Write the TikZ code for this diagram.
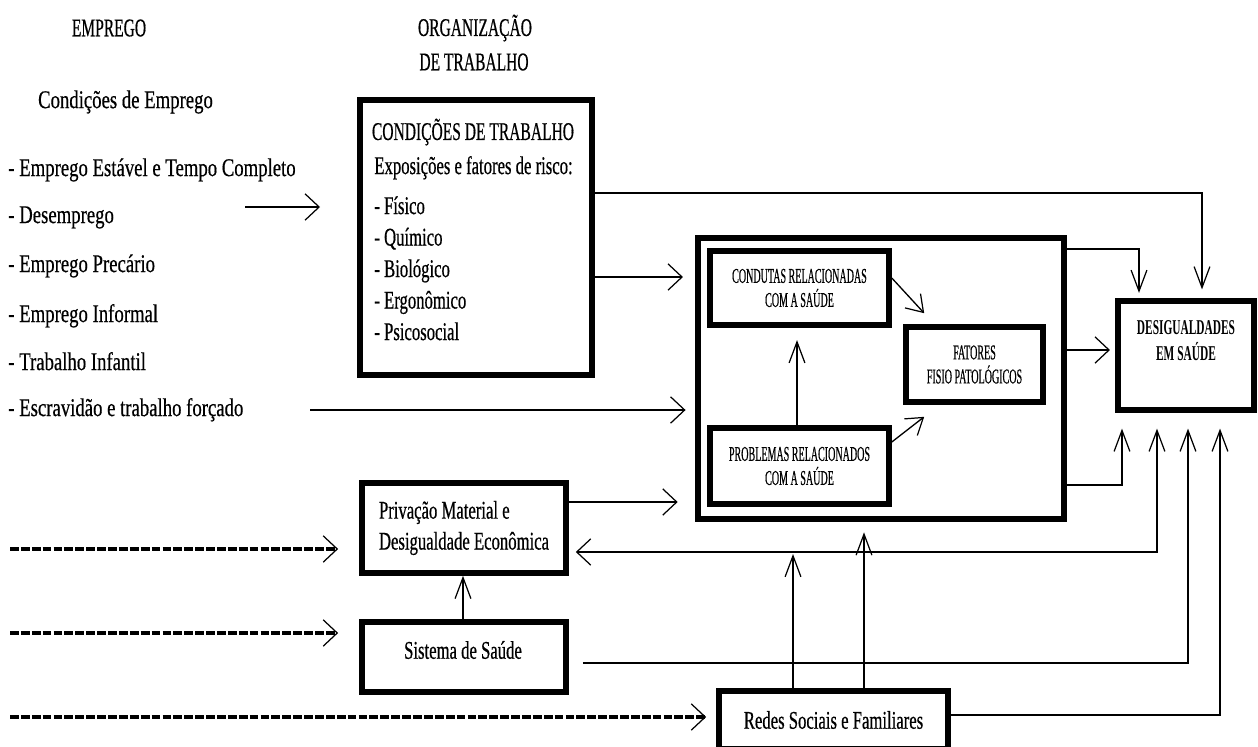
\documentclass[tikz,border=0pt]{standalone}
\usepackage{fontspec}
\setmainfont{Liberation Serif}
\newfontfamily\fA[FakeStretch=0.735,FakeBold=0.5]{Liberation Serif}
\newfontfamily\fB[FakeStretch=0.655,FakeBold=0.5]{Liberation Serif}
\newfontfamily\fH[FakeStretch=0.61,FakeBold=0.5]{Liberation Serif}
\newfontfamily\fC[FakeStretch=0.477,FakeBold=0.4]{Liberation Serif}
\newfontfamily\fD[FakeStretch=0.54]{Liberation Serif}
\usetikzlibrary{arrows.meta,calc}
\tikzset{
  HB/.tip={Straight Barb[length=8pt,width=15pt,line width=0.7pt]},
  VB/.tip={Straight Barb[length=12pt,width=9pt,line width=0.7pt]},
  DB/.tip={Straight Barb[length=9pt,width=12pt,line width=0.7pt]},
  box/.style={draw, line width=3.2pt, inner sep=0pt},
  conn/.style={line width=0.75pt},
  dashline/.style={line width=1.8pt, dash pattern=on 5pt off 1.2pt},
  txt/.style={inner sep=0pt},
  ltxt/.style={txt, font=\fA\fontsize{14.5}{17}\selectfont, anchor=mid west},
  btxt/.style={txt, font=\fB\fontsize{14.5}{17}\selectfont},
  htxt/.style={txt, font=\fH\fontsize{14.5}{17}\selectfont},
  ctxt/.style={font=\fC\fontsize{12}{13.7}\selectfont, align=center},
}
\begin{document}
\begin{tikzpicture}[x=0.02cm,y=-0.02cm]
\fill[white] (0,0) rectangle (1258,747);
\useasboundingbox (0,0) rectangle (1258,747);

% headings
\node[htxt] (hemp) at (109,28) {EMPREGO};
\node[htxt] (horg1) at (475,28) {ORGANIZAÇÃO};
\node[htxt] (horg2) at (474,62) {DE TRABALHO};
\node[txt, font=\fA\fontsize{14.5}{17}\selectfont] (hcond) at (125.5,102) {Condições de Emprego};

% left list
\node[ltxt] (l1) at (8,172) {- Emprego Estável e Tempo Completo};
\node[ltxt] (l2) at (8,219) {- Desemprego};
\node[ltxt] (l3) at (8,268) {- Emprego Precário};
\node[ltxt] (l4) at (8,318) {- Emprego Informal};
\node[ltxt] (l5) at (8,366) {- Trabalho Infantil};
\node[ltxt] (l6) at (8,412) {- Escravidão e trabalho forçado};

% boxes
\node[box, minimum width=4.65cm, minimum height=5.5cm] (cond) at (476,237.5) {};
\node[htxt] (condtitle) at (473,132) {CONDIÇÕES DE TRABALHO};
\node[btxt, anchor=mid west] (expo) at (374,170) {Exposições e fatores de risco:};
\node[btxt, anchor=mid west] (r1) at (374,210) {- Físico};
\node[btxt, anchor=mid west] (r2) at (374,241.5) {- Químico};
\node[btxt, anchor=mid west] (r3) at (374,273) {- Biológico};
\node[btxt, anchor=mid west] (r4) at (374,304.5) {- Ergonômico};
\node[btxt, anchor=mid west] (r5) at (374,336) {- Psicosocial};

\node[box, minimum width=7.32cm, minimum height=5.62cm] (big) at (881,378.5) {};
\node[box, ctxt, minimum width=3.58cm, minimum height=1.48cm] (condutas) at (799.5,288) {CONDUTAS RELACIONADAS\\COM A SAÚDE};
\node[box, ctxt, minimum width=3.58cm, minimum height=1.52cm] (problemas) at (799.5,466) {PROBLEMAS RELACIONADOS\\COM A SAÚDE};
\node[box, ctxt, minimum width=2.74cm, minimum height=1.5cm] (fatores) at (974.5,364.5) {FATORES\\FISIO PATOLÓGICOS};
\node[box, minimum width=2.72cm, minimum height=2.18cm] (desig) at (1186,355.5) {};
\node[txt, align=center, font=\fD\bfseries\fontsize{12}{14.8}\selectfont] (desigtxt) at (1186,341) {DESIGUALDADES\\EM SAÚDE};

\node[box, minimum width=4.08cm, minimum height=1.8cm, align=left, font=\fB\fontsize{14.5}{17.6}\selectfont] (priv) at (464,528) {Privação Material e\\Desigualdade Econômica};
\node[box, minimum width=4.08cm, minimum height=1.4cm] (sist) at (464,657) {};
\node[btxt] (sisttxt) at (463,650) {Sistema de Saúde};
\node[box, minimum width=4.58cm, minimum height=1.16cm, font=\fB\fontsize{14.5}{17}\selectfont] (redes) at (833.5,720) {Redes Sociais e Familiares};

% free ends
\coordinate (a1s) at (245,207);
\coordinate (a1e) at (320,207);
\coordinate (a6s) at (310,410);
\coordinate (d1s) at (10,549);
\coordinate (d2s) at (10,633);
\coordinate (d3s) at (10,717);
\coordinate (backtip) at (793,554);

% connectors
\draw[conn,-HB] (a1s) -- (a1e);
\draw[conn,-HB,shorten >=7pt] (cond.east |- 0,277) -- (big.west |- 0,277);
\draw[conn,-VB,shorten >=5pt] (cond.east |- 0,193) -| ($(desig.north)+(16,0)$);
\draw[conn,-HB,shorten >=5.5pt] (a6s) -- (big.west |- a6s);
\draw[conn,-VB,shorten >=3pt] (big.east |- 0,249) -| ($(desig.north)+(-47,0)$);
\draw[conn,-HB,shorten >=3pt] (big.east |- 0,350) -- (desig.west |- 0,350);
\draw[conn,-VB,shorten >=9pt] (big.east |- 0,485) -| ($(desig.south)+(-64,0)$);
\draw[conn,-HB,shorten >=10pt] (priv.east |- 0,502) -- (big.west |- 0,502);
\draw[conn,HB-VB,shorten <=4pt,shorten >=9pt] (priv.east |- 0,552) -| ($(desig.south)+(-29,0)$);
\draw[conn,-VB] (sist.north -| 463,0) -- (priv.south -| 463,0);
\draw[conn,-VB,shorten <=8pt,shorten >=9pt] (sist.east |- 0,663) -| ($(desig.south)+(2,0)$);
\draw[conn,-VB,shorten >=9pt] (redes.east |- 0,715) -| ($(desig.south)+(34,0)$);
\draw[conn,-VB] (redes.north -| backtip) -- (backtip);
\draw[conn,-VB,shorten >=6pt] (redes.north -| 864,0) -- (big.south -| 864,0);
\draw[conn,-VB,shorten >=7pt] (problemas.north -| 797,0) -- (condutas.south -| 797,0);
\draw[conn,-DB] ($(condutas.east)+(0,-10)$) -- ($(fatores.north west)+(21,-11)$);
\draw[conn,-DB] ($(problemas.east)+(0,-24)$) -- ($(fatores.south west)+(21,12)$);

% dashed inputs
\draw[dashline,-HB,shorten >=12pt] (d1s) -- (priv.west |- d1s);
\draw[dashline,-HB,shorten >=12pt] (d2s) -- (sist.west |- d2s);
\draw[dashline,-HB,shorten >=5.7pt] (d3s) -- (redes.west |- d3s);
\end{tikzpicture}
\end{document}
